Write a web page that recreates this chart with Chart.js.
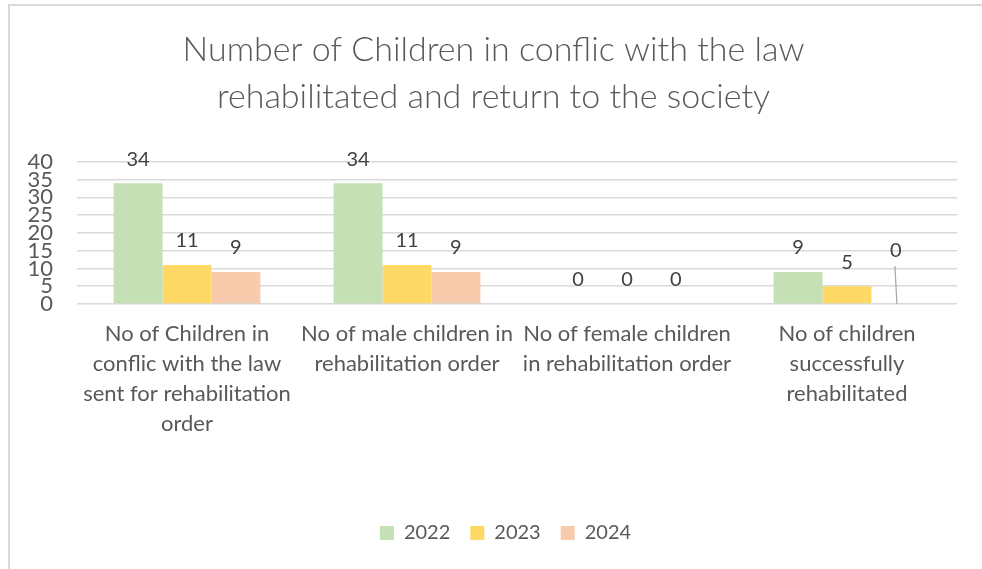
<!DOCTYPE html>
<html>
<head>
<meta charset="utf-8">
<script src="https://cdn.jsdelivr.net/npm/chart.js@4/dist/chart.umd.min.js"></script>
<style>
    html, body { margin: 0; padding: 0; background: #fff; }
    #wrap { position: relative; width: 982px; height: 569px; overflow: hidden; }
    #frame {
        position: absolute; left: 8px; top: 4px; width: 990px; height: 580px;
        border-top: 2px solid #d9d9d9; border-left: 2px solid #d9d9d9;
    }
    #chart { position: absolute; left: 0; top: 0; }
</style>
</head>
<body>
<div id="wrap">
    <div id="frame"></div>
    <canvas id="chart" width="982" height="569"></canvas>
</div>
<script>
const categories = [
    ["No of Children in", "conflic with the law", "sent for rehabilitation", "order"],
    ["No of male children in", "rehabilitation order"],
    ["No of female children", "in rehabilitation order"],
    ["No of children", "successfully", "rehabilitated"]
];
const years = ["2022", "2023", "2024"];
const values2022 = [34, 34, 0, 9];
const values2023 = [11, 11, 0, 5];
const values2024 = [9, 9, 0, 0];
const yTicks = [0, 5, 10, 15, 20, 25, 30, 35, 40];

const colors = ["#c5e0b4", "#ffd966", "#f8cbad"];
const FONT = "Lato, 'Open Sans', sans-serif";
const GREY = "#595959";

// value labels above each bar; one label is lifted and tied back with a leader line
const barValueLabels = {
    id: "barValueLabels",
    afterDatasetsDraw(chart, args, opts) {
        const ctx = chart.ctx;
        ctx.save();
        ctx.font = "20px " + FONT;
        ctx.fillStyle = "#404040";
        ctx.textAlign = "center";
        ctx.textBaseline = "bottom";
        chart.data.datasets.forEach((ds, di) => {
            const meta = chart.getDatasetMeta(di);
            meta.data.forEach((bar, i) => {
                let y = bar.y - opts.offset;
                const lead = opts.leaders.find(l => l.datasetIndex === di && l.index === i);
                if (lead) {
                    y -= lead.lift;
                    ctx.beginPath();
                    ctx.strokeStyle = "#a6a6a6";
                    ctx.lineWidth = 1.2;
                    ctx.moveTo(bar.x - 1, y + 5);
                    ctx.lineTo(bar.x + 1, bar.base);
                    ctx.stroke();
                }
                ctx.fillText(String(ds.data[i]), bar.x, y);
            });
        });
        ctx.restore();
    }
};

// nudge the title and legend boxes sideways after layout
const boxNudge = {
    id: "boxNudge",
    afterLayout(chart, args, opts) {
        [[chart.legend, opts.legend], [chart.titleBlock, opts.title]].forEach(([box, dx]) => {
            if (box && dx) { box.left += dx; box.right += dx; }
        });
    }
};

new Chart(document.getElementById("chart"), {
    type: "bar",
    data: {
        labels: categories,
        datasets: [values2022, values2023, values2024].map((vals, k) => ({
            label: years[k],
            data: vals,
            backgroundColor: colors[k],
            borderWidth: 0,
            categoryPercentage: 0.667,
            barPercentage: 1.0
        }))
    },
    plugins: [barValueLabels, boxNudge],
    options: {
        responsive: false,
        animation: false,
        layout: { padding: { left: 10, right: 25, top: 0, bottom: 16 } },
        plugins: {
            title: {
                display: true,
                text: ["Number of Children in conflic with the law", "rehabilitated and return to the society"],
                color: GREY,
                font: { family: FONT, size: 34, weight: "300", lineHeight: 1.38 },
                padding: { top: 27, bottom: 41 }
            },
            legend: {
                position: "bottom",
                labels: {
                    color: GREY,
                    font: { family: FONT, size: 20 },
                    boxWidth: 14,
                    boxHeight: 14,
                    padding: 20
                }
            },
            tooltip: { enabled: false },
            barValueLabels: {
                offset: 14,
                leaders: [{ datasetIndex: 2, index: 3, lift: 29 }]
            },
            boxNudge: { legend: 22, title: 10 }
        },
        scales: {
            x: {
                afterFit(scale) { scale.height = 199; },
                grid: { display: false },
                border: { display: false },
                ticks: {
                    color: GREY,
                    font: { family: FONT, size: 22, lineHeight: 1.364 },
                    padding: 7,
                    maxRotation: 0,
                    autoSkip: false
                }
            },
            y: {
                min: 0,
                max: 40,
                afterFit(scale) { scale.width = 67; },
                afterBuildTicks(scale) { scale.ticks = yTicks.map(v => ({ value: v })); },
                grid: { color: "#d9d9d9", lineWidth: 1.5, drawTicks: false },
                border: { display: false },
                ticks: {
                    color: GREY,
                    font: { family: FONT, size: 22, lineHeight: 1 },
                    padding: 24,
                    autoSkip: false
                }
            }
        }
    }
});
</script>
</body>
</html>
